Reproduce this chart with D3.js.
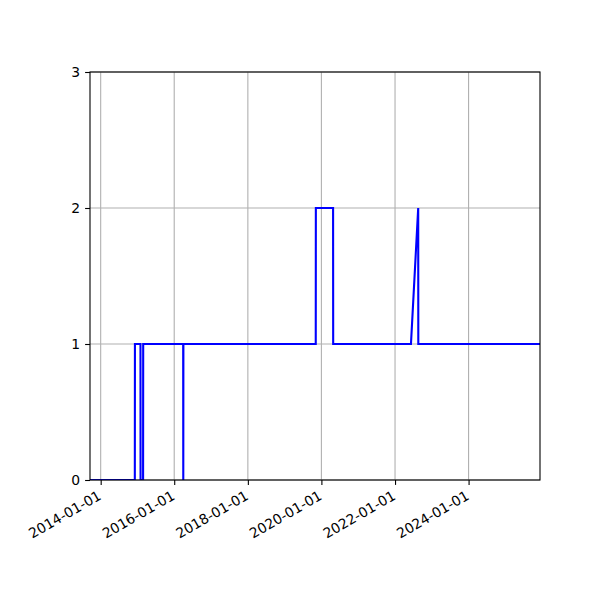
<!doctype html>
<html>
<head>
  <meta charset="utf-8">
  <title>step series</title>
  <style>
    body { margin: 0; background: #fff; }
    svg { display: block; }
    text { font-family: "DejaVu Sans", sans-serif; font-size: 13.9px; fill: #000; }
  </style>
</head>
<body>
  <div id="chart"></div>
  <script src="https://cdn.jsdelivr.net/npm/d3@7"></script>
  <script>
    // values
    const dates = ['2013-09-17', '2014-12-06', '2014-12-07', '2015-01-31', '2015-02-01',
      '2015-02-26', '2015-02-27', '2016-03-30', '2016-03-31', '2016-04-01',
      '2019-11-06', '2019-11-07', '2020-04-26', '2020-04-27', '2022-06-08',
      '2022-08-19', '2022-08-20', '2025-12-10'];
    const values = [0, 0, 1, 1, 0, 0, 1, 1, 0, 1, 1, 2, 2, 1, 1, 2, 1, 1];
    const xTicks = ['2014-01-01', '2016-01-01', '2018-01-01', '2020-01-01', '2022-01-01', '2024-01-01'];
    const yTicks = [0, 1, 2, 3];

    const parse = d3.utcParse('%Y-%m-%d');
    const data = dates.map((d, i) => ({ date: parse(d), value: values[i] }));

    const width = 600, height = 600;
    const m = { left: 90, right: 60, top: 72, bottom: 120 };
    const w = width - m.left - m.right;
    const h = height - m.top - m.bottom;

    const svg = d3.select('#chart').append('svg').attr('width', width).attr('height', height);
    const g = svg.append('g').attr('transform', `translate(${m.left},${m.top})`);

    const x = d3.scaleUtc().domain(d3.extent(data, d => d.date)).range([0, w]);
    const y = d3.scaleLinear().domain([0, 3]).range([h, 0]);

    // grid
    g.append('g').selectAll('line').data(xTicks).join('line')
      .attr('x1', d => x(parse(d))).attr('x2', d => x(parse(d)))
      .attr('y1', 0).attr('y2', h)
      .attr('stroke', '#b0b0b0').attr('stroke-width', 1.1);
    g.append('g').selectAll('line').data(yTicks).join('line')
      .attr('x1', 0).attr('x2', w)
      .attr('y1', d => y(d)).attr('y2', d => y(d))
      .attr('stroke', '#b0b0b0').attr('stroke-width', 1.1);

    svg.append('clipPath').attr('id', 'clip').append('rect').attr('width', w).attr('height', h);

    const line = d3.line().x(d => x(d.date)).y(d => y(d.value));
    g.append('path').datum(data)
      .attr('clip-path', 'url(#clip)')
      .attr('fill', 'none').attr('stroke', '#0000ff').attr('stroke-width', 2.1)
      .attr('stroke-linejoin', 'miter')
      .attr('d', line);

    // frame
    g.append('rect').attr('width', w).attr('height', h)
      .attr('fill', 'none').attr('stroke', '#000').attr('stroke-width', 1.1);

    // x axis
    const xAxis = g.append('g').attr('transform', `translate(0,${h})`)
      .call(d3.axisBottom(x).tickValues(xTicks.map(parse)).tickFormat(d3.utcFormat('%Y-%m-%d'))
        .tickSize(4.9).tickPadding(4.9));
    xAxis.select('.domain').remove();
    xAxis.selectAll('line').attr('stroke', '#000').attr('stroke-width', 1.1);
    xAxis.selectAll('text')
      .attr('font-size', null).attr('font-family', null)
      .attr('text-anchor', 'end')
      .attr('dy', null)
      .attr('dominant-baseline', 'hanging')
      .attr('transform', 'translate(-9,1) rotate(-30)');

    // y axis
    const yAxis = g.append('g')
      .call(d3.axisLeft(y).tickValues(yTicks).tickFormat(d3.format('d')).tickSize(4.9).tickPadding(4.9));
    yAxis.select('.domain').remove();
    yAxis.selectAll('line').attr('stroke', '#000').attr('stroke-width', 1.1);
    yAxis.selectAll('text').attr('font-size', null).attr('font-family', null);
    svg.selectAll('.tick text').style('fill', '#000');
  </script>
</body>
</html>
